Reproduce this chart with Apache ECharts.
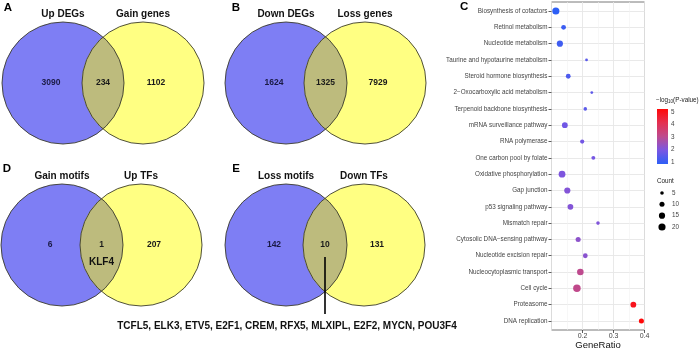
<!DOCTYPE html>
<html><head><meta charset="utf-8">
<script src="https://cdn.jsdelivr.net/npm/echarts@6/dist/echarts.min.js"></script>
<style>html,body{margin:0;padding:0;background:#fff}#c{width:700px;height:349px}</style>
</head><body><div id="c"></div>
<script>
// ---------- Venn data ----------
const vennPanels = ['A', 'B', 'D', 'E'];
const vennSetLeft = ['Up DEGs', 'Down DEGs', 'Gain motifs', 'Loss motifs'];
const vennSetRight = ['Gain genes', 'Loss genes', 'Up TFs', 'Down TFs'];
const vennOnlyLeft = [3090, 1624, 6, 142];
const vennBoth = [234, 1325, 1, 10];
const vennOnlyRight = [1102, 7929, 207, 131];
const vennBothNote = ['', '', 'KLF4', ''];
const sharedTFs = ['TCFL5', 'ELK3', 'ETV5', 'E2F1', 'CREM', 'RFX5', 'MLXIPL', 'E2F2', 'MYCN', 'POU3F4'];

// ---------- KEGG dot plot data ----------
const pathways = ['Biosynthesis of cofactors', 'Retinol metabolism', 'Nucleotide metabolism',
  'Taurine and hypotaurine metabolism', 'Steroid hormone biosynthesis', '2\u2212Oxocarboxylic acid metabolism',
  'Terpenoid backbone biosynthesis', 'mRNA surveillance pathway', 'RNA polymerase', 'One carbon pool by folate',
  'Oxidative phosphorylation', 'Gap junction', 'p53 signaling pathway', 'Mismatch repair',
  'Cytosolic DNA\u2212sensing pathway', 'Nucleotide excision repair', 'Nucleocytoplasmic transport',
  'Cell cycle', 'Proteasome', 'DNA replication'];
const geneRatio = [0.114, 0.139, 0.127, 0.213, 0.154, 0.230, 0.209, 0.143, 0.199, 0.235,
  0.134, 0.151, 0.161, 0.250, 0.186, 0.209, 0.193, 0.182, 0.364, 0.390];
const geneCount = [20, 9, 15, 3, 9, 3, 5, 13, 7, 6, 18, 15, 13, 5, 10, 9, 17, 22, 13, 10];
const negLogP = [0.85, 1.05, 1.1, 1.5, 1.3, 1.55, 1.5, 1.8, 1.85, 1.9, 2.0, 2.1, 2.1, 2.05, 2.25, 2.2, 3.05, 3.1, 4.95, 5.25];
const colorRange = [0.85, 5.25];
const countLegend = [5, 10, 15, 20];

// ---------- layout & style (not data) ----------
const FONT = "'Liberation Sans', Arial, sans-serif";
const vennLayout = [
  { c1: 63, c2: 143, cy: 83, r: 61, lx: 8, ly: 8 },
  { c1: 286, c2: 365, cy: 83, r: 61, lx: 236, ly: 8 },
  { c1: 62, c2: 141, cy: 245, r: 61, lx: 7, ly: 169 },
  { c1: 286, c2: 364, cy: 245, r: 61, lx: 236, ly: 169 }
];
const colorStops = ['#2d5ff6', '#7a56e2', '#be4a8e', '#e43050', '#ff0808'];
const sizeOf = c => 1.6 * Math.sqrt(c);

function renderVenn(params, api) {
  const i = params.dataIndex;
  const L = vennLayout[i];
  const p1 = api.coord([L.c1, L.cy]);
  const p2 = api.coord([L.c2, L.cy]);
  const r = api.size([L.r, 0])[0];
  const d = p2[0] - p1[0];
  const a = Math.acos((d / 2) / r);
  const lens = [];
  const N = 60;
  for (let k = 0; k <= N; k++) {
    const t = -a + 2 * a * k / N;
    lens.push([p1[0] + r * Math.cos(t), p1[1] + r * Math.sin(t)]);
  }
  for (let k = 0; k <= N; k++) {
    const t = Math.PI - a + 2 * a * k / N;
    lens.push([p2[0] + r * Math.cos(t), p2[1] + r * Math.sin(t)]);
  }
  const cy = p1[1];
  const mid = (p1[0] + p2[0]) / 2;
  const txt = (x, y, text, size, color, extra) => ({
    type: 'text', x, y,
    style: Object.assign({ text, fontSize: size, fontWeight: 'bold', fontFamily: FONT, fill: color, align: 'center', verticalAlign: 'middle' }, extra || {})
  });
  const ch = [
    { type: 'circle', shape: { cx: p1[0], cy, r }, style: { fill: '#7e7ef4' } },
    { type: 'circle', shape: { cx: p2[0], cy, r }, style: { fill: '#ffff82' } },
    { type: 'polygon', shape: { points: lens }, style: { fill: '#bdbb7d' } },
    { type: 'circle', shape: { cx: p1[0], cy, r }, style: { fill: null, stroke: '#3c3c2c', lineWidth: 0.9 } },
    { type: 'circle', shape: { cx: p2[0], cy, r }, style: { fill: null, stroke: '#3c3c2c', lineWidth: 0.9 } },
    txt(p1[0], cy - 69, vennSetLeft[i], 10, '#111'),
    txt(p2[0], cy - 69, vennSetRight[i], 10, '#111'),
    txt(p1[0] - 12, cy, String(vennOnlyLeft[i]), 8.5, '#1a1a44'),
    txt(mid, cy, String(vennBoth[i]), 8.5, '#1a1a1a'),
    txt(p2[0] + 13, cy, String(vennOnlyRight[i]), 8.5, '#1a1a1a'),
    txt(L.lx, L.ly, vennPanels[i], 11.5, '#000')
  ];
  if (vennBothNote[i]) ch.push(txt(mid, cy + 17, vennBothNote[i], 10, '#111'));
  if (i === 3) {
    ch.push({ type: 'line', shape: { x1: mid, y1: cy + 12, x2: mid, y2: cy + 69 }, style: { stroke: '#000', lineWidth: 1.6 } });
    ch.push(txt(287, cy + 81, sharedTFs.join(', '), 10, '#111'));
  }
  return { type: 'group', children: ch };
}

function renderColorbar(params, api) {
  const top = api.coord([0, colorRange[1]]);
  const bot = api.coord([1, colorRange[0]]);
  const stops = colorStops.slice().reverse().map((c, k) => ({ offset: k / (colorStops.length - 1), color: c }));
  return {
    type: 'rect',
    shape: { x: top[0], y: top[1], width: bot[0] - top[0], height: bot[1] - top[1] },
    style: { fill: new echarts.graphic.LinearGradient(0, 0, 0, 1, stops) }
  };
}

const chart = echarts.init(document.getElementById('c'), null, { renderer: 'canvas' });
const hidden = { show: false };
const lbl = { fontSize: 6.3, color: '#444', fontFamily: FONT };
const ob = { outerBoundsMode: 'none', containLabel: false };

chart.setOption({
  animation: false,
  backgroundColor: '#fff',
  grid: [
    Object.assign({ left: 0, top: 0, width: 460, height: 349 }, ob),
    Object.assign({ left: 551.5, top: 2, width: 93, height: 328, show: true, borderColor: '#555', borderWidth: 0.8, backgroundColor: 'transparent' }, ob),
    Object.assign({ left: 551.5, top: 11, width: 93, height: 310 }, ob),
    Object.assign({ left: 657, top: 109, width: 11, height: 55 }, ob),
    Object.assign({ left: 655, top: 193, width: 14, height: 34 }, ob)
  ],
  xAxis: [
    { gridIndex: 0, type: 'value', min: 0, max: 460, show: false },
    { gridIndex: 1, type: 'value', min: 0.1, max: 0.4, interval: 0.1,
      axisLine: hidden,
      axisTick: { show: true, length: 3, lineStyle: { color: '#333', width: 0.8 } },
      axisLabel: { showMinLabel: false, fontSize: 7, color: '#444', margin: 3, fontFamily: FONT },
      splitLine: { show: true, lineStyle: { color: '#e6e6e6', width: 0.9 } },
      minorTick: { show: false, splitNumber: 2 },
      minorSplitLine: { show: true, lineStyle: { color: '#f2f2f2', width: 0.6 } },
      name: 'GeneRatio', nameLocation: 'middle', nameGap: 10, nameMoveOverlap: false,
      nameTextStyle: { fontSize: 9.5, color: '#111', fontFamily: FONT } },
    { gridIndex: 2, type: 'value', min: 0.1, max: 0.4, show: false },
    { gridIndex: 3, type: 'value', min: 0, max: 1, show: false },
    { gridIndex: 4, type: 'value', min: 0, max: 1, show: false }
  ],
  yAxis: [
    { gridIndex: 0, type: 'value', min: 0, max: 349, inverse: true, show: false },
    { gridIndex: 1, type: 'value', min: 0, max: 1, show: false },
    { gridIndex: 2, type: 'category', data: pathways, inverse: true, boundaryGap: false,
      axisLine: hidden,
      axisTick: { show: true, length: 3, interval: 0, lineStyle: { color: '#333', width: 0.8 } },
      axisLabel: Object.assign({ interval: 0, margin: 4 }, lbl),
      splitLine: { show: true, interval: 0, lineStyle: { color: '#e6e6e6', width: 0.9 } } },
    { gridIndex: 3, type: 'value', min: colorRange[0], max: colorRange[1], position: 'right',
      axisLine: hidden, axisTick: hidden, splitLine: hidden,
      axisLabel: Object.assign({ margin: 3, formatter: v => (Math.abs(v - Math.round(v)) < 1e-6 ? String(Math.round(v)) : '') }, lbl) },
    { gridIndex: 4, type: 'category', data: countLegend.map(String), inverse: true, boundaryGap: false, position: 'right',
      axisLine: hidden, axisTick: hidden, splitLine: hidden,
      axisLabel: Object.assign({ margin: 3, interval: 0 }, lbl) }
  ],
  visualMap: [{
    show: false, type: 'continuous', seriesIndex: 1, dimension: 3,
    min: colorRange[0], max: colorRange[1], inRange: { color: colorStops }
  }],
  series: [
    { type: 'custom', xAxisIndex: 0, yAxisIndex: 0, clip: false, silent: true,
      data: vennPanels.map((p, i) => [i, i]), renderItem: renderVenn, z: 2 },
    { type: 'scatter', xAxisIndex: 2, yAxisIndex: 2, silent: true,
      data: pathways.map((p, i) => [geneRatio[i], p, geneCount[i], negLogP[i]]),
      symbolSize: d => sizeOf(d[2]), itemStyle: { opacity: 1 }, z: 5 },
    { type: 'custom', xAxisIndex: 3, yAxisIndex: 3, silent: true, clip: false,
      data: [[0, colorRange[0]]], renderItem: renderColorbar },
    { type: 'scatter', xAxisIndex: 4, yAxisIndex: 4, silent: true,
      data: countLegend.map(c => [0.5, String(c), c]),
      symbolSize: d => sizeOf(d[2]), itemStyle: { color: '#000', opacity: 1 } }
  ],
  graphic: [
    { type: 'text', left: 460, top: 1, style: { text: 'C', fontSize: 11.5, fontWeight: 'bold', fontFamily: FONT, fill: '#000' } },
    { type: 'text', left: 656, top: 97, style: {
        text: '{a|\u2212log}{s|10}{a|(P-value)}', fontFamily: FONT,
        rich: { a: { fontSize: 6.3, fill: '#222', fontFamily: FONT }, s: { fontSize: 4.5, fill: '#222', padding: [4, 0, 0, 0], fontFamily: FONT } } } },
    { type: 'text', left: 657, top: 178, style: { text: 'Count', fontSize: 6.3, fontFamily: FONT, fill: '#222' } }
  ]
});
</script>
</body></html>
